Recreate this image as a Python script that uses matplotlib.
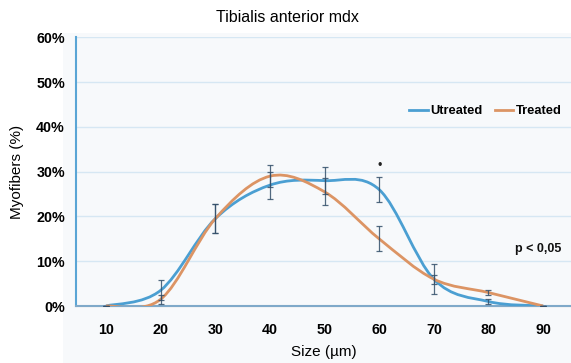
import numpy as np
import matplotlib
matplotlib.use('Agg')
import matplotlib.pyplot as plt
from matplotlib.path import Path
from matplotlib.patches import PathPatch, Rectangle

plt.rcParams['font.family'] = ['Liberation Sans', 'DejaVu Sans']

# Data
sizes = [10, 20, 30, 40, 50, 60, 70, 80, 90]
untreated = [0, 3.5, 19.5, 27, 28, 26, 6, 1, 0]
untreated_err = [0, 2.2, 3.3, 3, 3, 2.8, 3.3, 0.5, 0]
treated = [0, 1.5, 19.5, 29, 25.5, 15, 6, 3, 0]
treated_err = [0, 1, 3.3, 2.5, 3, 2.8, 1, 0.5, 0]
y_ticks = [0, 10, 20, 30, 40, 50, 60]

colors = {
    'Utreated': '#4b9fd2',
    'Treated': '#dc9464',
}
err_color = '#34506b'


def smooth_path(x, y):
    # Excel-like smoothed line: cubic bezier through points (Catmull-Rom, tension 1/6)
    x = np.asarray(x, float)
    y = np.asarray(y, float)
    px = np.concatenate([[x[0]], x, [x[-1]]])
    py = np.concatenate([[y[0]], y, [y[-1]]])
    verts = [(x[0], y[0])]
    codes = [Path.MOVETO]
    for i in range(1, len(x)):
        c1 = (px[i] + (px[i + 1] - px[i - 1]) / 6, py[i] + (py[i + 1] - py[i - 1]) / 6)
        c2 = (px[i + 1] - (px[i + 2] - px[i]) / 6, py[i + 1] - (py[i + 2] - py[i]) / 6)
        verts += [c1, c2, (px[i + 1], py[i + 1])]
        codes += [Path.CURVE4] * 3
    return Path(verts, codes)


fig = plt.figure(figsize=(5.71, 3.63), dpi=100)
fig.patch.set_facecolor('white')
# light tinted chart area
fig.patches.append(Rectangle((0.11, 0), 0.89, 0.91, transform=fig.transFigure,
                             facecolor='#f7f9fb', edgecolor='none', zorder=-1))
ax = fig.add_axes([0.133, 0.157, 0.867, 0.740])
ax.set_facecolor('#f7f9fb')

# Grid
for v in y_ticks[1:]:
    ax.axhline(v, color='#d6e7f3', linewidth=1, zorder=0)

# Smoothed lines
for name, vals in [('Utreated', untreated), ('Treated', treated)]:
    patch = PathPatch(smooth_path(sizes, vals), facecolor='none',
                      edgecolor=colors[name], linewidth=2, zorder=3)
    ax.add_patch(patch)
    ax.plot([], [], color=colors[name], linewidth=2, label=name)

# Error bars
ax.errorbar(sizes, untreated, yerr=untreated_err, fmt='none', ecolor=err_color,
            elinewidth=0.9, capsize=2, capthick=0.9, zorder=4, alpha=0.85)
ax.errorbar(sizes, treated, yerr=treated_err, fmt='none', ecolor=err_color,
            elinewidth=0.9, capsize=2, capthick=0.9, zorder=4, alpha=0.85)

# Significance mark at 60
ax.text(sizes[5], untreated[5] + untreated_err[5] + 2.4, '•', ha='center', va='center',
        fontsize=9, color='#222222', zorder=5)
ax.text(93.3, 12.7, 'p < 0,05', ha='right', va='center', fontsize=9,
        fontweight='bold', color='#111111')

ax.set_xlim(4.5, 95.1)
ax.set_ylim(0, 60)
ax.set_xticks(sizes)
ax.set_xticklabels([str(s) for s in sizes], fontsize=10.3, fontweight='bold')
ax.set_yticks(y_ticks)
ax.set_yticklabels([f'{v}%' for v in y_ticks], fontsize=10.3, fontweight='bold')
ax.tick_params(axis='x', length=0, pad=12)
ax.tick_params(axis='y', length=0, pad=8)

for s in ['top', 'right']:
    ax.spines[s].set_visible(False)
ax.spines['left'].set_color('#5aa5d5')
ax.spines['left'].set_linewidth(1.5)
ax.spines['bottom'].set_color('#7fa9c9')
ax.spines['bottom'].set_linewidth(1.5)
ax.axhline(0, color=colors['Treated'], linewidth=0.8, alpha=0.7, zorder=2, clip_on=False)

ax.set_xlabel('Size (µm)', fontsize=11, labelpad=6)
ax.set_ylabel('Myofibers (%)', fontsize=11, labelpad=9)
fig.text(0.503, 0.953, 'Tibialis anterior mdx', ha='center', va='center', fontsize=11.5)

leg = ax.legend(loc='upper right', bbox_to_anchor=(1.005, 0.79), ncol=2, frameon=False,
                handlelength=1.4, handletextpad=0.2, columnspacing=1.0,
                prop={'weight': 'bold', 'size': 9.3})

fig.savefig('out.png', dpi=100)
